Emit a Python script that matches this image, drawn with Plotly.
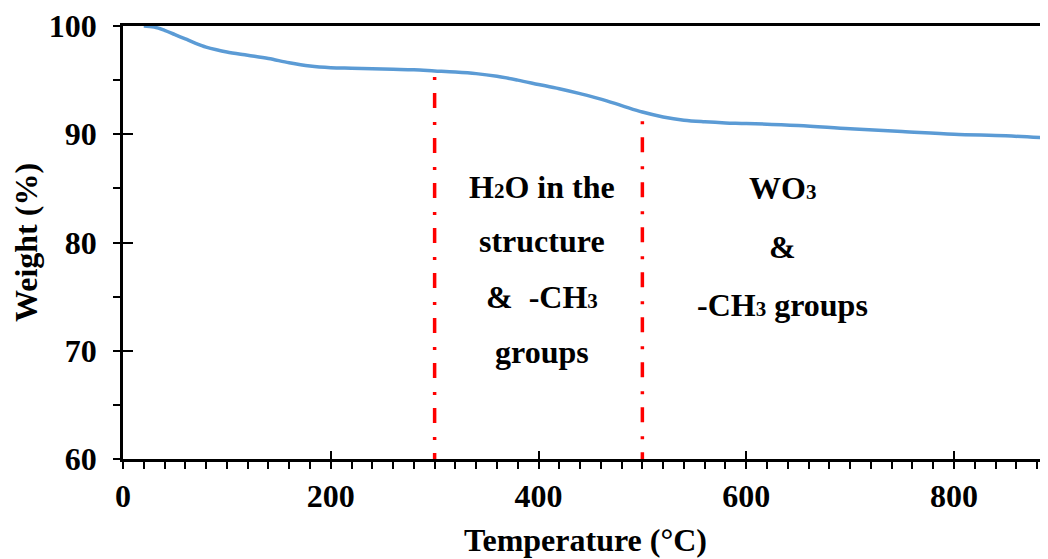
import plotly.graph_objects as go

# Data
temperature = [20, 30, 40, 50, 60, 70, 80, 90, 100, 120, 140, 160, 180, 200, 220, 240, 260, 280,
               300, 320, 340, 360, 380, 400, 420, 440, 460, 480, 500, 520, 540, 560, 580, 600,
               650, 700, 750, 800, 850, 890]
weight = [100.0, 99.9, 99.6, 99.2, 98.8, 98.4, 98.05, 97.8, 97.6, 97.3, 97.0, 96.6, 96.3, 96.15,
          96.1, 96.05, 96.0, 95.95, 95.85, 95.75, 95.6, 95.35, 95.0, 94.6, 94.2, 93.75, 93.25,
          92.65, 92.05, 91.6, 91.3, 91.15, 91.05, 91.0, 90.8, 90.5, 90.25, 90.0, 89.85, 89.65]

# Region boundaries (x) and their top (y)
boundary_x = [300, 500]
boundary_top = [95.3, 91.2]

SUB2 = "<span style='font-size:21px'>2</span>"
SUB3 = "<span style='font-size:21px'>3</span>"

# Region labels
region1_lines = [f"H{SUB2}O in the", "structure", f"&  -CH{SUB3}", "groups"]
region1_y = [85.1, 80.1, 75.0, 69.9]
region1_x = 403
region2_lines = [f"WO{SUB3}", "&", f"-CH{SUB3} groups"]
region2_y = [85.0, 79.6, 74.2]
region2_x = 635

x_range = [0, 890.5]
y_range = [60, 100]

FONT = "Liberation Serif"

fig = go.Figure()
fig.add_trace(go.Scatter(x=temperature, y=weight, mode="lines",
                         line=dict(color="#5B9BD5", width=3.5, shape="spline"),
                         showlegend=False, hoverinfo="skip"))

for bx, bt in zip(boundary_x, boundary_top):
    fig.add_trace(go.Scatter(x=[bx, bx], y=[bt, y_range[0]], mode="lines",
                             line=dict(color="#FF0000", width=3.5, dash="3px,13px,15px,14px"),
                             showlegend=False, hoverinfo="skip"))

annfont = dict(family=FONT, size=32, color="black")
for txt, yy in zip(region1_lines, region1_y):
    fig.add_annotation(x=region1_x, y=yy, text=f"<b>{txt}</b>", showarrow=False,
                       font=annfont, xanchor="center", yanchor="middle")
for txt, yy in zip(region2_lines, region2_y):
    fig.add_annotation(x=region2_x, y=yy, text=f"<b>{txt}</b>", showarrow=False,
                       font=annfont, xanchor="center", yanchor="middle")

tickfont = dict(family=FONT, size=32, color="black")
titlefont = dict(family=FONT, size=32, color="black")

fig.update_layout(
    width=1040, height=551,
    margin=dict(l=115, r=0, t=18, b=100),
    plot_bgcolor="white", paper_bgcolor="white",
    xaxis=dict(range=x_range, tickmode="array", tickvals=[0, 200, 400, 600, 800],
               ticktext=["<b>0</b>", "<b>200</b>", "<b>400</b>", "<b>600</b>", "<b>800</b>"],
               ticks="outside", ticklen=7, tickwidth=2, tickcolor="black",
               minor=dict(dtick=20, tick0=0, ticks="outside", ticklen=7, tickwidth=2, tickcolor="black"),
               showline=True, linecolor="black", linewidth=2.5, mirror=True,
               showgrid=False, zeroline=False, tickfont=tickfont, automargin=False,
               title=dict(text="<b>Temperature (°C)</b>", font=titlefont, standoff=16)),
    yaxis=dict(range=y_range, tickmode="array", tickvals=[60, 70, 80, 90, 100],
               ticktext=["<b>60</b>", "<b>70</b>", "<b>80</b>", "<b>90</b>", "<b>100</b>"],
               ticks="outside", ticklen=7, tickwidth=2, tickcolor="black", ticklabelstandoff=10,
               minor=dict(dtick=5, tick0=60, ticks="outside", ticklen=7, tickwidth=2, tickcolor="black"),
               showline=True, linecolor="black", linewidth=2.5,
               showgrid=False, zeroline=False, tickfont=tickfont, automargin=False,
               title=dict(text="<b>Weight (%)</b>", font=titlefont, standoff=2)),
    xaxis2=dict(range=x_range, overlaying="x", tickmode="array", tickvals=[0, 200, 400, 600, 800],
                ticks="inside", ticklen=8, tickwidth=2, tickcolor="black", showticklabels=False,
                showline=False, showgrid=False, zeroline=False, anchor="y", automargin=False),
    yaxis2=dict(range=y_range, overlaying="y", tickmode="array", tickvals=[60, 70, 80, 90, 100],
                ticks="inside", ticklen=10, tickwidth=2, tickcolor="black", showticklabels=False,
                showline=False, showgrid=False, zeroline=False, anchor="x", automargin=False),
)
# invisible trace to activate secondary axes
fig.add_trace(go.Scatter(x=[None], y=[None], xaxis="x2", yaxis="y2", showlegend=False, hoverinfo="skip"))

fig.write_html("out.html")
